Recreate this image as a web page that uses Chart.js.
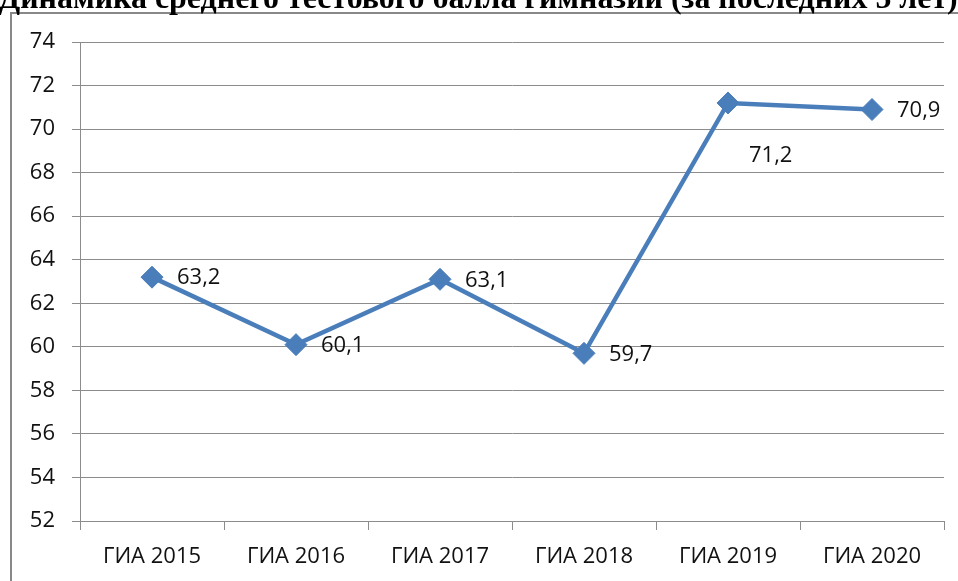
<!DOCTYPE html>
<html lang="ru">
<head>
    <meta charset="UTF-8">
    <script src="https://cdn.jsdelivr.net/npm/chart.js"></script>
    <title>Динамика среднего тестового балла</title>
    <style>
        body {
            margin: 0;
            padding: 0;
            background-color: #ffffff;
        }
        #wrap {
            width: 958px;
            height: 581px;
            position: relative;
        }
    </style>
</head>
<body>
    <div id="wrap">
        <canvas id="myChart" width="958" height="581"></canvas>
    </div>
    <script>
        const titleText = 'Динамика среднего тестового балла гимназии (за последних 5 лет)';
        const categories = ['ГИА 2015', 'ГИА 2016', 'ГИА 2017', 'ГИА 2018', 'ГИА 2019', 'ГИА 2020'];
        const scores = [63.2, 60.1, 63.1, 59.7, 71.2, 70.9];
        const valueLabels = ['63,2', '60,1', '63,1', '59,7', '71,2', '70,9'];
        const labelSide = ['right', 'right', 'right', 'right', 'below', 'right'];
        const yTicks = [52, 54, 56, 58, 60, 62, 64, 66, 68, 70, 72, 74];

        const lineColor = '#4a7ebb';
        const gridColor = '#8c8c8c';
        const textColor = '#111';
        const textFont = '"Open Sans", sans-serif';

        // frame around the chart + the cut-off title at the top
        const framePlugin = {
            id: 'frame',
            beforeDraw(chart) {
                const ctx = chart.ctx;
                ctx.save();
                ctx.fillStyle = '#fff';
                ctx.fillRect(0, 0, chart.width, chart.height);
                ctx.strokeStyle = '#888';
                ctx.lineWidth = 2;
                ctx.beginPath();
                ctx.moveTo(11, chart.height + 5);
                ctx.lineTo(11, 13);
                ctx.lineTo(chart.width + 5, 13);
                ctx.stroke();

                // title, sized to fill the width like the original
                let size = 28;
                ctx.font = 'bold ' + size + 'px "Liberation Serif", serif';
                const w = ctx.measureText(titleText).width;
                size = size * 960 / w;
                ctx.font = 'bold ' + size + 'px "Liberation Serif", serif';
                ctx.fillStyle = '#000';
                ctx.textAlign = 'center';
                ctx.textBaseline = 'alphabetic';
                ctx.fillText(titleText, 478, 8);
                ctx.restore();
            }
        };

        // value labels next to the points
        const valuePlugin = {
            id: 'values',
            afterDatasetsDraw(chart) {
                const ctx = chart.ctx;
                const meta = chart.getDatasetMeta(0);
                ctx.save();
                ctx.font = '22px ' + textFont;
                ctx.fillStyle = textColor;
                ctx.textAlign = 'left';
                ctx.textBaseline = 'middle';
                meta.data.forEach((pt, i) => {
                    if (labelSide[i] === 'below') {
                        ctx.fillText(valueLabels[i], pt.x + 21, pt.y + 53);
                    } else {
                        ctx.fillText(valueLabels[i], pt.x + 25, pt.y + 1);
                    }
                });
                ctx.restore();
            }
        };

        const data = {
            labels: categories,
            datasets: [{
                label: 'Средний балл',
                data: scores,
                borderColor: lineColor,
                backgroundColor: lineColor,
                borderWidth: 4.5,
                pointStyle: 'rectRot',
                pointRadius: 11,
                pointHoverRadius: 11,
                pointBackgroundColor: lineColor,
                pointBorderColor: lineColor,
                pointBorderWidth: 1,
                tension: 0
            }]
        };

        const config = {
            type: 'line',
            data: data,
            plugins: [framePlugin, valuePlugin],
            options: {
                responsive: false,
                animation: false,
                layout: {
                    padding: { top: 42, right: 14, left: 0, bottom: 0 }
                },
                plugins: {
                    legend: { display: false },
                    tooltip: { enabled: false },
                    title: { display: false }
                },
                scales: {
                    x: {
                        offset: true,
                        grid: {
                            offset: true,
                            drawOnChartArea: false,
                            drawTicks: true,
                            tickLength: 9,
                            color: gridColor
                        },
                        border: { display: true, color: gridColor, width: 1 },
                        ticks: {
                            color: textColor,
                            font: { family: textFont, size: 22 },
                            padding: 14,
                            maxRotation: 0
                        },
                        afterFit(scale) { scale.height = 60; }
                    },
                    y: {
                        min: 52,
                        max: 74,
                        afterBuildTicks(scale) {
                            scale.ticks = yTicks.map(v => ({ value: v }));
                        },
                        grid: {
                            color: gridColor,
                            tickLength: 8,
                            drawTicks: true
                        },
                        border: { display: true, color: gridColor, width: 1 },
                        ticks: {
                            color: textColor,
                            font: { family: textFont, size: 22 },
                            padding: 17
                        },
                        afterFit(scale) { scale.width = 80; }
                    }
                }
            }
        };

        const ctx = document.getElementById('myChart').getContext('2d');
        const myChart = new Chart(ctx, config);
    </script>
</body>
</html>
